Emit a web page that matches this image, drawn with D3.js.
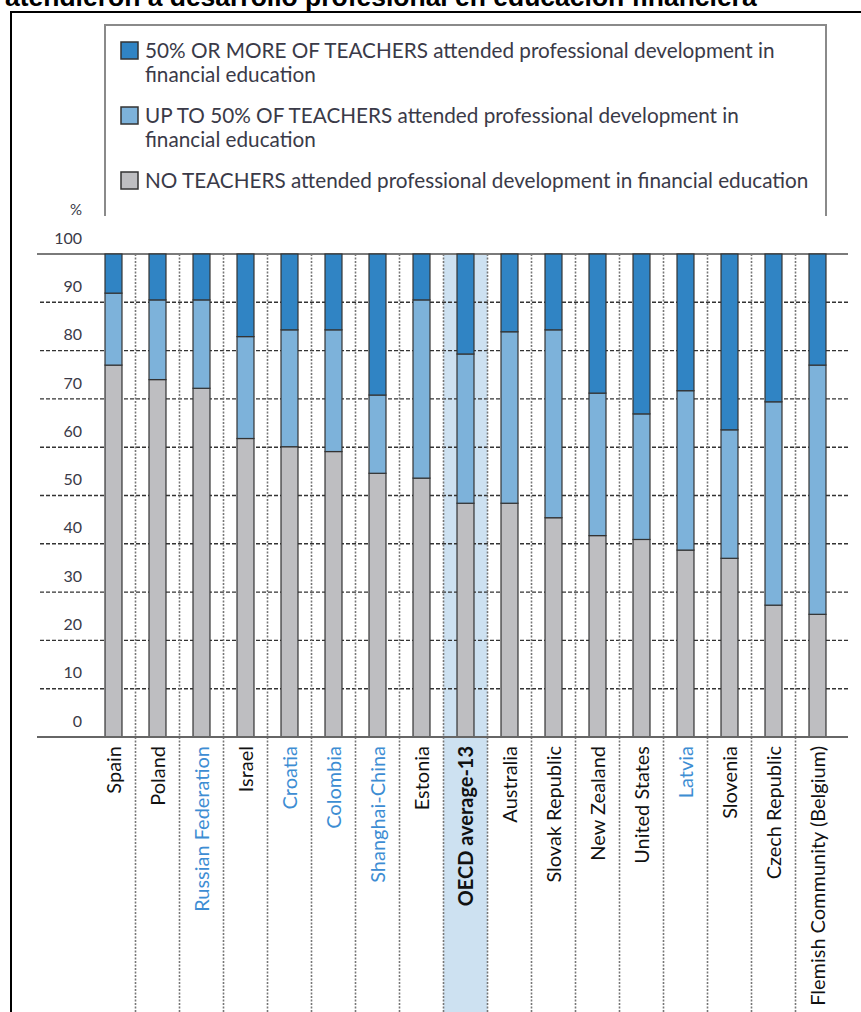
<!DOCTYPE html>
<html>
<head>
<meta charset="utf-8">
<script src="https://cdn.jsdelivr.net/npm/d3@7"></script>
<style>
  html, body { margin: 0; padding: 0; background: #fff; }
  svg { display: block; }
</style>
</head>
<body>
<svg id="chart" width="861" height="1012"></svg>
<script>
// ---------------- DATA ----------------
const titleText = "atendieron a desarrollo profesional en educación financiera";
const categories = ["Spain", "Poland", "Russian Federation", "Israel", "Croatia", "Colombia",
  "Shanghai-China", "Estonia", "OECD average-13", "Australia", "Slovak Republic", "New Zealand",
  "United States", "Latvia", "Slovenia", "Czech Republic", "Flemish Community (Belgium)"];
const partnerCategories = ["Russian Federation", "Croatia", "Colombia", "Shanghai-China", "Latvia"];
const averageCategory = "OECD average-13";
const noTeachers   = [77.0, 74.0, 72.2, 61.8, 60.1, 59.1, 54.6, 53.6, 48.4, 48.4, 45.4, 41.7, 40.9, 38.7, 37.0, 27.3, 25.4];
const upTo50       = [14.9, 16.5, 18.3, 21.1, 24.2, 25.2, 16.2, 36.9, 30.9, 35.5, 38.9, 29.5, 26.0, 33.0, 26.6, 42.1, 51.6];
const fiftyOrMore  = [8.1, 9.5, 9.5, 17.1, 15.7, 15.7, 29.2, 9.5, 20.7, 16.1, 15.7, 28.8, 33.1, 28.3, 36.4, 30.6, 23.0];
const seriesKeys   = ["none", "upto", "more"];
const legendLines  = [
  ["50% OR MORE OF TEACHERS attended professional development in", "financial education"],
  ["UP TO 50% OF TEACHERS attended professional development in", "financial education"],
  ["NO TEACHERS attended professional development in financial education"]
];
const legendKeys = ["more", "upto", "none"];
const yTicks = [0, 10, 20, 30, 40, 50, 60, 70, 80, 90, 100];

// ---------------- STYLE ----------------
const colors = { more: "#3084c4", upto: "#7db2da", none: "#bebec1" };
const textColor = "#3a3a48";
const partnerColor = "#3d8dd3";
const font = "Lato, 'Open Sans', sans-serif";

const svg = d3.select("#chart");

const rows = categories.map((c, i) => ({ cat: c, none: noTeachers[i], upto: upTo50[i], more: fiftyOrMore[i] }));
const stacked = d3.stack().keys(seriesKeys)(rows);

const x = d3.scaleBand().domain(categories).range([91.5, 839.5]).paddingInner(0.614).paddingOuter(0.307);
const y = d3.scaleLinear().domain([0, 100]).range([737, 254]);
const bw = x.bandwidth();
const gap = (x.step() - bw) / 2;

// title (cut off at top)
const title = svg.append("text").attr("x", 5).attr("y", 6)
  .attr("font-family", "'Liberation Sans', Arial, sans-serif").attr("font-weight", "bold")
  .attr("font-size", 21).attr("fill", "#000").text(titleText);
(function fit(t, target) { const w = t.node().getComputedTextLength(); const fs = +t.attr("font-size"); t.attr("font-size", fs * target / w); })(title, 752);

// frame
svg.append("line").attr("x1", 11).attr("x2", 11).attr("y1", 12).attr("y2", 1012).attr("stroke", "#000").attr("stroke-width", 2);
svg.append("line").attr("x1", 10).attr("x2", 861).attr("y1", 12).attr("y2", 12).attr("stroke", "#000").attr("stroke-width", 2);

// legend box
const lg = svg.append("g");
lg.append("path").attr("d", "M105,216 V25 H826 V216").attr("fill", "none").attr("stroke", "#8a8a8a").attr("stroke-width", 2);
const itemY = [51, 116, 181];
let legendFont = 16;
legendKeys.forEach((k, i) => {
  lg.append("rect").attr("x", 121).attr("y", itemY[i] - 9).attr("width", 17).attr("height", 17)
    .attr("fill", colors[k]).attr("stroke", "#333").attr("stroke-width", 1.5);
  legendLines[i].forEach((ln, j) => {
    lg.append("text").attr("class", "lgt").attr("x", 145).attr("y", itemY[i] + j * 24)
      .attr("dy", "0.35em").attr("font-family", font).attr("font-size", legendFont)
      .attr("fill", textColor).text(ln);
  });
});
// fit legend font to reference width of first line
{
  const t = lg.select(".lgt");
  const w = t.node().getComputedTextLength();
  legendFont = 16 * 630 / w;
  lg.selectAll(".lgt").attr("font-size", legendFont);
}

// OECD average shading
svg.append("rect").attr("x", x(averageCategory) - gap).attr("y", y(100))
  .attr("width", x.step()).attr("height", 1012 - y(100)).attr("fill", "#cde1f1");

// horizontal gridlines
svg.append("g").selectAll("line").data(yTicks.filter(d => d > 0 && d < 100)).join("line")
  .attr("x1", 40).attr("x2", 848).attr("y1", d => y(d)).attr("y2", d => y(d))
  .attr("stroke", "#333").attr("stroke-width", 1.4).attr("stroke-dasharray", "4,2");

// vertical dotted separators
svg.append("g").selectAll("line").data(categories.slice(1)).join("line")
  .attr("x1", d => x(d) - gap).attr("x2", d => x(d) - gap)
  .attr("y1", y(100)).attr("y2", 1012)
  .attr("stroke", "#777").attr("stroke-width", 1.6).attr("stroke-dasharray", "2,1.5");

// axis lines
svg.append("line").attr("x1", 37).attr("x2", 848).attr("y1", y(100)).attr("y2", y(100)).attr("stroke", "#7a7a7a").attr("stroke-width", 2);

// bars
svg.append("g").selectAll("g").data(stacked).join("g")
  .attr("fill", d => colors[d.key])
  .selectAll("rect").data(d => d).join("rect")
  .attr("x", d => x(d.data.cat)).attr("width", bw)
  .attr("y", d => y(d[1])).attr("height", d => y(d[0]) - y(d[1]))
  .attr("stroke", "#333").attr("stroke-width", 1.2);

svg.append("line").attr("x1", 37).attr("x2", 848).attr("y1", y(0)).attr("y2", y(0)).attr("stroke", "#666").attr("stroke-width", 2);

// y axis labels
const yAxis = d3.axisLeft(y).tickValues(yTicks).tickSize(0).tickPadding(0);
const ya = svg.append("g").attr("transform", "translate(82,-16)").call(yAxis);
ya.select(".domain").remove();
ya.selectAll("text").attr("font-family", font).attr("font-size", 16).attr("fill", textColor);
svg.append("text").attr("x", 82).attr("y", 210).attr("dy", "0.35em").attr("text-anchor", "end")
  .attr("font-family", font).attr("font-size", 15).attr("fill", textColor).text("%");

// category labels
const xa = svg.append("g").selectAll("text").data(categories).join("text")
  .attr("transform", d => `translate(${x(d) + bw / 2},746) rotate(-90)`)
  .attr("dy", "0.35em").attr("text-anchor", "end")
  .attr("font-family", font).attr("font-size", 16)
  .attr("font-weight", d => d === averageCategory ? "bold" : "normal")
  .attr("fill", d => partnerCategories.includes(d) ? partnerColor : "#111")
  .text(d => d);
{
  const last = xa.filter(d => d === "Flemish Community (Belgium)");
  const w = last.node().getComputedTextLength();
  xa.attr("font-size", 16 * 260 / w);
}
</script>
</body>
</html>
